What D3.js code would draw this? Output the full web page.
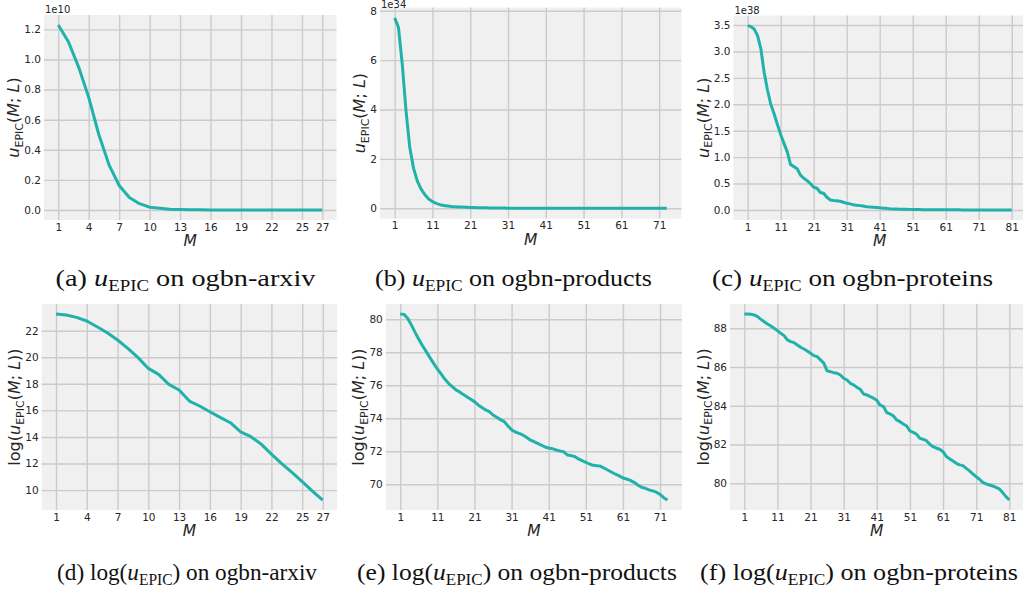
<!DOCTYPE html>
<html>
<head>
<meta charset="utf-8">
<script src="https://cdn.jsdelivr.net/npm/d3@7"></script>
<style>
  body { margin: 0; background: #fff; }
  svg { display: block; }
</style>
</head>
<body>
<div id="figure"></div>
<script>
/* global d3 */

// ---- data (linear values are in units of 10^exp) ----
const uArxiv = [1.229, 1.118, 0.951, 0.748, 0.5, 0.3, 0.163, 0.083, 0.042, 0.019,
  0.012, 0.0057, 0.0037, 0.0018, 0.0012, 0.0008, 0.0005, 0.00035, 0.00018, 0.00012,
  0.00007, 0.00003, 0.000016, 0.000008, 0.000004, 0.000002, 0.000001];

const uProducts = [7.71, 7.32, 5.85, 3.95, 2.45, 1.62, 1.10, 0.78, 0.55, 0.38,
  0.27, 0.20, 0.148, 0.114, 0.094, 0.077, 0.068, 0.058, 0.050, 0.043,
  0.038, 0.031, 0.026, 0.023, 0.020, 0.0166, 0.0144, 0.0125, 0.0111, 0.0086,
  0.0067, 0.0059, 0.0055, 0.0049, 0.0043, 0.0037, 0.0033, 0.0030, 0.0027, 0.0024,
  0.0022, 0.0021, 0.0020, 0.0019, 0.0018, 0.0015, 0.0014, 0.0013, 0.0012, 0.0011,
  0.00098, 0.00088, 0.00082, 0.00080, 0.00077, 0.00068, 0.00061, 0.00054, 0.00048, 0.00043,
  0.00038, 0.00036, 0.00033, 0.00029, 0.00025, 0.00022, 0.00020, 0.00018, 0.00017, 0.00016,
  0.00014, 0.00011, 0.00010];

const uProteins = [3.49, 3.47, 3.42, 3.30, 3.05, 2.60, 2.27, 2.00, 1.82, 1.62,
  1.43, 1.26, 1.10, 0.86, 0.82, 0.78, 0.66, 0.60, 0.555, 0.50,
  0.43, 0.41, 0.33, 0.315, 0.24, 0.19, 0.18, 0.175, 0.165, 0.145,
  0.125, 0.115, 0.10, 0.09, 0.082, 0.075, 0.06, 0.055, 0.05, 0.045,
  0.04, 0.032, 0.03, 0.022, 0.02, 0.018, 0.015, 0.013, 0.012, 0.011,
  0.0082, 0.0077, 0.007, 0.0057, 0.0054, 0.005, 0.0042, 0.0037, 0.0034, 0.0032,
  0.0028, 0.0022, 0.0020, 0.0018, 0.0016, 0.0015, 0.0014, 0.0012, 0.0011, 0.0009,
  0.0008, 0.0007, 0.0006, 0.00055, 0.00052, 0.0005, 0.00046, 0.00043, 0.00035, 0.00029,
  0.00024];

const logArxiv = [23.26, 23.18, 23.00, 22.73, 22.30, 21.85, 21.30, 20.67, 19.97, 19.16,
  18.71, 17.96, 17.53, 16.70, 16.33, 15.90, 15.47, 15.07, 14.39, 14.02,
  13.46, 12.71, 12.00, 11.33, 10.63, 9.93, 9.25];

const logProducts = [80.32, 80.30, 80.06, 79.66, 79.21, 78.79, 78.40, 78.04, 77.68, 77.33,
  76.99, 76.69, 76.38, 76.12, 75.92, 75.72, 75.60, 75.45, 75.29, 75.15,
  75.01, 74.81, 74.65, 74.51, 74.40, 74.20, 74.06, 73.92, 73.80, 73.54,
  73.30, 73.17, 73.09, 72.99, 72.85, 72.69, 72.59, 72.48, 72.38, 72.26,
  72.20, 72.16, 72.08, 72.02, 71.98, 71.78, 71.74, 71.68, 71.54, 71.43,
  71.33, 71.23, 71.15, 71.13, 71.09, 70.97, 70.85, 70.73, 70.61, 70.51,
  70.38, 70.32, 70.24, 70.12, 69.96, 69.82, 69.76, 69.66, 69.60, 69.52,
  69.39, 69.19, 69.05];

const logProteins = [88.74, 88.74, 88.72, 88.69, 88.60, 88.46, 88.34, 88.22, 88.12, 88.00,
  87.88, 87.74, 87.62, 87.40, 87.31, 87.26, 87.14, 87.02, 86.93, 86.83,
  86.71, 86.59, 86.54, 86.37, 86.20, 85.80, 85.76, 85.71, 85.68, 85.59,
  85.42, 85.33, 85.16, 85.08, 84.95, 84.85, 84.61, 84.56, 84.47, 84.39,
  84.28, 84.04, 83.96, 83.65, 83.58, 83.48, 83.27, 83.18, 83.06, 82.96,
  82.70, 82.63, 82.53, 82.32, 82.27, 82.20, 82.01, 81.89, 81.81, 81.76,
  81.63, 81.38, 81.26, 81.15, 81.03, 80.95, 80.91, 80.77, 80.64, 80.48,
  80.34, 80.21, 80.05, 79.97, 79.91, 79.86, 79.79, 79.71, 79.52, 79.31,
  79.14];

// tick labels
const xTicksArxiv = [1, 4, 7, 10, 13, 16, 19, 22, 25, 27];
const xTicksProducts = [1, 11, 21, 31, 41, 51, 61, 71];
const xTicksProteins = [1, 11, 21, 31, 41, 51, 61, 71, 81];
const yTicksArxiv = [0, 0.2, 0.4, 0.6, 0.8, 1.0, 1.2];
const yTicksProducts = [0, 2, 4, 6, 8];
const yTicksProteins = [0, 0.5, 1.0, 1.5, 2.0, 2.5, 3.0, 3.5];
const yTicksLogArxiv = [10, 12, 14, 16, 18, 20, 22];
const yTicksLogProducts = [70, 72, 74, 76, 78, 80];
const yTicksLogProteins = [80, 82, 84, 86, 88];

const datasets = ['ogbn-arxiv', 'ogbn-products', 'ogbn-proteins'];

// ---- style ----
const WIDTH = 1023;
const HEIGHT = 592;
const PAD = 0.054; // axes margin around data
const BG = '#f0f0f0';
const GRID = '#cbcbcb';
const LINE = '#20b2aa';
const TEXT = '#262626';
const SANS = "'DejaVu Sans', sans-serif";
const SERIF = "'Liberation Serif', 'Times New Roman', serif";

const $svg = d3.select('#figure').append('svg')
  .attr('width', WIDTH)
  .attr('height', HEIGHT);

// append runs of text to a <text>, sub runs lowered and smaller
function appendRuns($text, runs, subSize, subShift) {
  let shifted = false;
  runs.forEach((r) => {
    const $t = $text.append('tspan').text(r.t);
    if (r.italic) $t.style('font-style', 'italic');
    if (r.sub) {
      $t.attr('font-size', subSize).attr('dy', shifted ? 0 : subShift);
      shifted = true;
    } else if (shifted) {
      $t.attr('dy', -subShift);
      shifted = false;
    }
  });
}

function uRuns() {
  return [{ t: 'u', italic: true }, { t: 'EPIC', sub: true },
    { t: '(' }, { t: 'M', italic: true }, { t: '; ' }, { t: 'L', italic: true }, { t: ')' }];
}

function drawPanel(cfg) {
  const { box, values, xTicks, yTicks, yFormat, offset, isLog, caption } = cfg;
  const n = values.length;
  const xPad = (n - 1) * PAD;
  const x = d3.scaleLinear().domain([1 - xPad, n + xPad]).range([box.left, box.right]);
  const [lo, hi] = d3.extent(values);
  const yPad = (hi - lo) * PAD;
  const y = d3.scaleLinear().domain([lo - yPad, hi + yPad]).range([box.bottom, box.top]);
  const w = box.right - box.left;
  const h = box.bottom - box.top;

  const $g = $svg.append('g').attr('class', 'panel');

  $g.append('rect')
    .attr('x', box.left).attr('y', box.top)
    .attr('width', w).attr('height', h)
    .attr('fill', BG);

  // x axis with grid
  const $xAxis = $g.append('g')
    .attr('transform', `translate(0,${box.bottom})`)
    .call(d3.axisBottom(x).tickValues(xTicks).tickSize(-h).tickPadding(3.2).tickFormat(d3.format('d')));

  // y axis with grid
  const $yAxis = $g.append('g')
    .attr('transform', `translate(${box.left},0)`)
    .call(d3.axisLeft(y).tickValues(yTicks).tickSize(-w).tickPadding(3).tickFormat(d3.format(yFormat)));

  [$xAxis, $yAxis].forEach(($a) => {
    $a.select('.domain').remove();
    $a.selectAll('.tick line').attr('stroke', GRID).attr('stroke-width', 1.4);
    $a.selectAll('.tick text')
      .attr('fill', TEXT)
      .attr('font-family', SANS)
      .attr('font-size', 10.5);
    $a.attr('font-family', null).attr('font-size', null);
  });

  // data line
  $g.append('path')
    .datum(values)
    .attr('fill', 'none')
    .attr('stroke', LINE)
    .attr('stroke-width', 3)
    .attr('stroke-linejoin', 'round')
    .attr('d', d3.line().x((d, i) => x(i + 1)).y((d) => y(d)));

  // offset text
  if (offset) {
    $g.append('text')
      .attr('x', box.left + 1)
      .attr('y', Math.max(box.top - 1.7, 8))
      .attr('font-family', SANS)
      .attr('font-size', 10)
      .attr('fill', TEXT)
      .text(offset);
  }

  // x label
  $g.append('text')
    .attr('x', box.left + w / 2)
    .attr('y', box.bottom + 26)
    .attr('text-anchor', 'middle')
    .attr('font-family', SANS)
    .attr('font-size', 15.5)
    .attr('font-style', 'italic')
    .attr('fill', TEXT)
    .text('M');

  // y label, placed left of widest tick label
  const maxW = d3.max($yAxis.selectAll('.tick text').nodes(), (t) => t.getComputedTextLength());
  const labelX = box.left - 3 - maxW - 5;
  const $yl = $g.append('text')
    .attr('transform', `translate(${labelX},${box.top + h / 2}) rotate(-90)`)
    .attr('text-anchor', 'middle')
    .attr('font-family', SANS)
    .attr('font-size', 16)
    .attr('fill', TEXT);
  const runs = isLog ? [{ t: 'log(' }, ...uRuns(), { t: ')' }] : uRuns();
  appendRuns($yl, runs, 11, 3.3);

  // caption, stretched to the measured width
  const $cap = $svg.append('text')
    .attr('x', 0)
    .attr('y', 0)
    .attr('text-anchor', 'middle')
    .attr('font-family', SERIF)
    .attr('font-size', 24)
    .attr('fill', '#111');
  const capRuns = isLog
    ? [{ t: `(${caption.tag}) log(` }, { t: 'u', italic: true }, { t: 'EPIC', sub: true }, { t: `) on ${caption.name}` }]
    : [{ t: `(${caption.tag}) ` }, { t: 'u', italic: true }, { t: 'EPIC', sub: true }, { t: ` on ${caption.name}` }];
  appendRuns($cap, capRuns, 16, 4.5);
  const natural = $cap.node().getBBox().width;
  const sx = caption.width / natural;
  $cap.attr('transform', `translate(${caption.x},${caption.y}) scale(${sx},1)`);
}

const panels = [
  { box: { left: 44, right: 336.5, top: 15, bottom: 220 }, values: uArxiv, xTicks: xTicksArxiv,
    yTicks: yTicksArxiv, yFormat: '.1f', offset: '1e10', isLog: false,
    caption: { x: 185.5, y: 286, width: 260, tag: 'a', name: datasets[0] } },
  { box: { left: 380, right: 681.4, top: 7.6, bottom: 218.6 }, values: uProducts, xTicks: xTicksProducts,
    yTicks: yTicksProducts, yFormat: 'd', offset: '1e34', isLog: false,
    caption: { x: 513.5, y: 286, width: 277, tag: 'b', name: datasets[1] } },
  { box: { left: 733.4, right: 1026, top: 15.6, bottom: 219.9 }, values: uProteins, xTicks: xTicksProteins,
    yTicks: yTicksProteins, yFormat: '.1f', offset: '1e38', isLog: false,
    caption: { x: 852.5, y: 286, width: 281, tag: 'c', name: datasets[2] } },
  { box: { left: 41.6, right: 337.1, top: 303.9, bottom: 510.1 }, values: logArxiv, xTicks: xTicksArxiv,
    yTicks: yTicksLogArxiv, yFormat: 'd', offset: null, isLog: true,
    caption: { x: 187, y: 580, width: 260, tag: 'd', name: datasets[0] } },
  { box: { left: 385.8, right: 681.9, top: 304, bottom: 510 }, values: logProducts, xTicks: xTicksProducts,
    yTicks: yTicksLogProducts, yFormat: 'd', offset: null, isLog: true,
    caption: { x: 517, y: 580, width: 320, tag: 'e', name: datasets[1] } },
  { box: { left: 730, right: 1023.6, top: 303.9, bottom: 510 }, values: logProteins, xTicks: xTicksProteins,
    yTicks: yTicksLogProteins, yFormat: 'd', offset: null, isLog: true,
    caption: { x: 859, y: 580, width: 318, tag: 'f', name: datasets[2] } },
];

panels.forEach(drawPanel);
</script>
</body>
</html>
